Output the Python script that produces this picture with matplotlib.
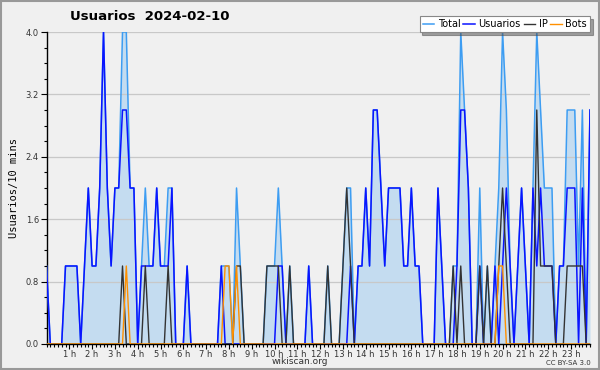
import numpy as np
import matplotlib.pyplot as plt
from matplotlib.ticker import MultipleLocator, FixedLocator

# 10-minute slots, 144 per day
total = [1, 0, 0, 0, 0, 1, 1, 1, 1, 0, 1, 2, 1, 1, 2, 4, 2, 1, 2, 2,
         4, 4, 2, 2, 0, 1, 2, 1, 1, 2, 1, 1, 2, 2, 0, 0, 0, 1, 0, 0,
         0, 0, 0, 0, 0, 0, 1, 1, 1, 0, 2, 1, 0, 0, 0, 0, 0, 0, 1, 1,
         1, 2, 1, 0, 1, 0, 0, 0, 0, 1, 0, 0, 0, 0, 1, 0, 0, 0, 1, 2,
         2, 0, 1, 1, 2, 1, 3, 3, 2, 1, 2, 2, 2, 2, 1, 1, 2, 1, 1, 0,
         0, 0, 0, 2, 1, 0, 0, 1, 1, 4, 3, 2, 0, 0, 2, 0, 1, 0, 1, 2,
         4, 3, 1, 0, 1, 2, 1, 0, 2, 4, 3, 2, 2, 2, 0, 1, 1, 3, 3, 3,
         1, 3, 0, 3]
usuarios = [1, 0, 0, 0, 0, 1, 1, 1, 1, 0, 1, 2, 1, 1, 2, 4, 2, 1, 2, 2,
            3, 3, 2, 2, 0, 1, 1, 1, 1, 2, 1, 1, 1, 2, 0, 0, 0, 1, 0, 0,
            0, 0, 0, 0, 0, 0, 1, 0, 0, 0, 0, 0, 0, 0, 0, 0, 0, 0, 0, 0,
            0, 1, 1, 0, 0, 0, 0, 0, 0, 1, 0, 0, 0, 0, 0, 0, 0, 0, 0, 0,
            1, 0, 1, 1, 2, 1, 3, 3, 2, 1, 2, 2, 2, 2, 1, 1, 2, 1, 1, 0,
            0, 0, 0, 2, 1, 0, 0, 0, 1, 3, 3, 2, 0, 0, 1, 0, 0, 0, 1, 0,
            1, 2, 1, 0, 1, 2, 1, 0, 2, 1, 2, 1, 1, 1, 0, 1, 1, 2, 2, 2,
            0, 2, 0, 3]
ip = [0, 0, 0, 0, 0, 0, 0, 0, 0, 0, 0, 0, 0, 0, 0, 0, 0, 0, 0, 0,
      1, 0, 0, 0, 0, 0, 1, 0, 0, 0, 0, 0, 1, 0, 0, 0, 0, 0, 0, 0,
      0, 0, 0, 0, 0, 0, 0, 0, 0, 0, 1, 1, 0, 0, 0, 0, 0, 0, 1, 1,
      1, 1, 0, 0, 1, 0, 0, 0, 0, 0, 0, 0, 0, 0, 1, 0, 0, 0, 1, 2,
      1, 0, 0, 0, 0, 0, 0, 0, 0, 0, 0, 0, 0, 0, 0, 0, 0, 0, 0, 0,
      0, 0, 0, 0, 0, 0, 0, 1, 0, 1, 0, 0, 0, 0, 1, 0, 1, 0, 0, 1,
      2, 1, 0, 0, 0, 0, 0, 0, 0, 3, 1, 1, 1, 1, 0, 0, 0, 1, 1, 1,
      1, 1, 0, 0]
bots = [0, 0, 0, 0, 0, 0, 0, 0, 0, 0, 0, 0, 0, 0, 0, 0, 0, 0, 0, 0,
        0, 1, 0, 0, 0, 0, 0, 0, 0, 0, 0, 0, 0, 0, 0, 0, 0, 0, 0, 0,
        0, 0, 0, 0, 0, 0, 0, 1, 1, 0, 1, 0, 0, 0, 0, 0, 0, 0, 0, 0,
        0, 0, 0, 0, 0, 0, 0, 0, 0, 0, 0, 0, 0, 0, 0, 0, 0, 0, 0, 0,
        0, 0, 0, 0, 0, 0, 0, 0, 0, 0, 0, 0, 0, 0, 0, 0, 0, 0, 0, 0,
        0, 0, 0, 0, 0, 0, 0, 0, 0, 0, 0, 0, 0, 0, 0, 0, 0, 0, 0, 1,
        1, 0, 0, 0, 0, 0, 0, 0, 0, 0, 0, 0, 0, 0, 0, 0, 0, 0, 0, 0,
        0, 0, 0, 0]
hour_labels = [f'{h} h' for h in range(1, 24)]

x = np.arange(len(total))
bg = '#f0f0f0'

fig = plt.figure(figsize=(6, 3.7), dpi=100, facecolor=bg)
ax = fig.add_axes([0.0775, 0.0703, 0.9058, 0.8432], facecolor=bg)

ax.fill_between(x, total, color='#c4dcf0', lw=0, zorder=1)
ax.plot(x, total, color='#3d9df2', lw=1.1, label='Total', zorder=3)
ax.plot(x, usuarios, color='#0a14ff', lw=1.1, label='Usuarios', zorder=4)
ax.plot(x, ip, color='#333333', lw=1.0, label='IP', zorder=5)
ax.plot(x, bots, color='#ff9000', lw=1.0, label='Bots', zorder=6)

ax.set_xlim(0, len(total) - 1)
ax.set_ylim(0, 4.0)

ax.yaxis.set_major_locator(MultipleLocator(0.8))
ax.yaxis.set_minor_locator(MultipleLocator(0.2))
ax.yaxis.set_major_formatter(lambda v, p: f'{v:.1f}')
ax.grid(axis='y', color='#c8c8c8', lw=0.9, zorder=0)

ax.xaxis.set_major_locator(FixedLocator(np.arange(6, 144, 6)))
ax.xaxis.set_minor_locator(MultipleLocator(1))
ax.set_xticklabels(hour_labels)

ax.tick_params(axis='both', which='major', labelsize=6, colors='black',
               labelcolor='#333333', length=3.5, width=0.8, pad=0.5)
ax.tick_params(axis='both', which='minor', length=2.5, width=0.8)
ax.tick_params(axis='y', which='major', length=4, pad=1.5)

for s in ['top', 'right']:
    ax.spines[s].set_visible(False)
for s in ['left', 'bottom']:
    ax.spines[s].set_linewidth(1.0)

ax.set_ylabel('Usuarios/10 mins', family='DejaVu Sans Mono', fontsize=7.5, labelpad=5)

fig.text(0.25, 0.955, 'Usuarios  2024-02-10', ha='center', va='center',
         fontsize=9.5, fontweight='bold')
fig.text(0.5, 0.022, 'wikiscan.org', ha='center', va='center', fontsize=6.5, color='#333333')
fig.text(0.985, 0.02, 'CC BY-SA 3.0', ha='right', va='center', fontsize=5, color='#333333')

leg = ax.legend(loc='lower right', bbox_to_anchor=(1.0, 1.0), ncol=4, fontsize=7,
                frameon=True, fancybox=False, shadow=True, handlelength=1.2,
                handletextpad=0.35, columnspacing=0.3, borderpad=0.3, borderaxespad=0)
leg.get_frame().set_edgecolor('#888888')
leg.get_frame().set_linewidth(0.8)

# outer frame
fig.patches.append(plt.Rectangle((0.002, 0.003), 0.996, 0.994, transform=fig.transFigure,
                                 fill=False, edgecolor='#999999', lw=1.5))

fig.savefig('out.png', dpi=100, facecolor=bg)
